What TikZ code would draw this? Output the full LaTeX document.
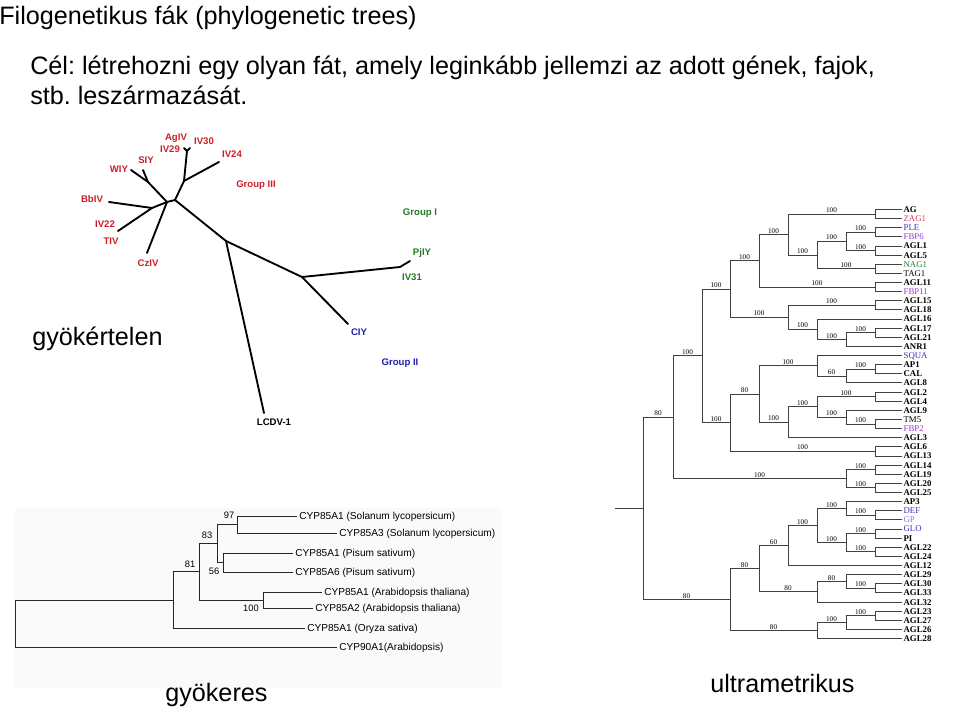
\documentclass[tikz,border=0pt]{standalone}
\usepackage{fontspec}
\setmainfont{Liberation Sans}
\newfontfamily\tms{Liberation Serif}
\frenchspacing
\definecolor{labred}{RGB}{205,30,40}
\definecolor{labgreen}{RGB}{40,120,40}
\definecolor{labblue}{RGB}{30,30,170}
\definecolor{uzag}{RGB}{215,60,90}
\definecolor{ublue}{RGB}{50,50,190}
\definecolor{upurple}{RGB}{150,60,200}
\definecolor{ugreen}{RGB}{30,130,60}
\definecolor{ugp}{RGB}{130,120,220}
\newcommand\uy[1]{209.5+9.13*(#1)}
\newcommand\ubr[3]{\draw[utree] (#1) |- node[ub] (b-#2) {#3} (#2);}
\newcommand\ulk[2]{\draw[utree] (#1) |- (#2);}
\tikzset{
  big/.style={font=\fontsize{18.9}{22}\selectfont, inner sep=0pt, anchor=base west},
  utree/.style={draw=black!75, line width=0.75pt},
  rtree/.style={draw=black!85, line width=0.75pt},
  ntree/.style={draw=black, line width=1.4pt, line cap=round},
  ub/.style={font=\tms\fontsize{5.4}{6}\selectfont, inner sep=0.3pt, above=0.4pt, pos=0.75},
  ulb/.style={font=\tms\bfseries\fontsize{6.6}{7}\selectfont, anchor=west, inner sep=1pt, text height=4.4pt, text depth=0pt},
  ulr/.style={ulb, font=\tms\fontsize{6.6}{7}\selectfont},
  ulred/.style={ulr, text=uzag},
  ulblue/.style={ulr, text=ublue},
  ulpurp/.style={ulr, text=upurple},
  ulgreen/.style={ulr, text=ugreen},
  ulgp/.style={ulr, text=ugp},
  rlf/.style={font=\fontsize{7.6}{9}\selectfont, anchor=west, inner sep=1.5pt, text height=5.4pt, text depth=0pt},
  rbs/.style={font=\fontsize{7}{8}\selectfont, inner sep=0pt},
  nlab/.style={font=\bfseries\fontsize{7.2}{8}\selectfont, inner sep=0pt, text=labred},
}
\begin{document}
\begin{tikzpicture}[x=0.75pt,y=-0.75pt]
\useasboundingbox (0,0) rectangle (960,709);
% faint background of the rooted tree picture
\fill[black!2] (15,508) rectangle (502,688);
% ---------------- texts
\node[big] (title) at (-1,25) {Filogenetikus fák (phylogenetic trees)};
\node[big] (goal1) at (30,75) {Cél: létrehozni egy olyan fát, amely leginkább jellemzi az adott gének, fajok,};
\node[big] (goal2) at (30,105) {stb. leszármazását.};
\node[big] (unr) at (32,345) {gyökértelen};
\node[big] (roo) at (165,701) {gyökeres};
\node[big] (ult) at (710,692) {ultrametrikus};

% ---------------- unrooted tree
\coordinate (p1) at (175,200);
\coordinate (p2) at (167,202);
\coordinate (wn) at (148,182);
\coordinate (bn) at (152,208);
\coordinate (g3) at (184,181);
\coordinate (ag) at (187,151);
\coordinate (q) at (226,241);
\coordinate (r) at (302,277);
\coordinate (pj) at (400,267);
\coordinate (tw) at (131,170);
\coordinate (ts) at (143,170);
\coordinate (tb) at (109,202);
\coordinate (ti) at (118,231);
\coordinate (tc) at (147,253);
\coordinate (ta1) at (184,148);
\coordinate (ta2) at (190,148);
\coordinate (t24) at (219,162);
\coordinate (tl) at (264,413);
\coordinate (tci) at (348,324);
\coordinate (tpj) at (410,261);
\draw[ntree] (tw) -- (wn) -- (p2);
\draw[ntree] (ts) -- (wn);
\draw[ntree] (tb) -- (bn) -- (p2);
\draw[ntree] (ti) -- (bn);
\draw[ntree] (tc) -- (p2) -- (p1);
\draw[ntree] (p1) -- (g3) -- (ag);
\draw[ntree] (ta1) -- (ag) -- (ta2);
\draw[ntree] (g3) -- (t24);
\draw[ntree] (p1) -- (q) -- (tl);
\draw[ntree] (q) -- (r) -- (pj) -- (tpj);
\draw[ntree] (r) -- (tci);

\node[nlab] (lAgIV) at (176,138) {AgIV};
\node[nlab] (lIV30) at (204,141) {IV30};
\node[nlab] (lIV29) at (170,149) {IV29};
\node[nlab] (lIV24) at (232,154) {IV24};
\node[nlab] (lSIY) at (146,160) {SIY};
\node[nlab] (lWIY) at (119,169) {WIY};
\node[nlab] (lG3) at (256,185) {Group III};
\node[nlab] (lBb) at (92,199) {BbIV};
\node[nlab] (lIV22) at (105,224) {IV22};
\node[nlab] (lTIV) at (111,241) {TIV};
\node[nlab] (lCz) at (148,263) {CzIV};
\node[nlab, text=labgreen] (lG1) at (420,213) {Group I};
\node[nlab, text=labgreen] (lPj) at (422,253) {PjIY};
\node[nlab, text=labgreen] (lIV31) at (412,277) {IV31};
\node[nlab, text=labblue] (lCI) at (359,332) {CIY};
\node[nlab, text=labblue] (lG2) at (400,363) {Group II};
\node[nlab, text=black] (lLC) at (274,422) {LCDV-1};

% ---------------- rooted tree
\coordinate (r0) at (15,623.5);
\coordinate (ra) at (173,600);
\coordinate (rb) at (199,571.75);
\coordinate (rc) at (217,543.5);
\coordinate (rd) at (237,524.5);
\coordinate (re) at (223,562.5);
\coordinate (rf) at (263,600);
\node[rlf] (t1) at (297,516) {CYP85A1 (Solanum lycopersicum)};
\node[rlf] (t2) at (337,533) {CYP85A3 (Solanum lycopersicum)};
\node[rlf] (t3) at (293,553) {CYP85A1 (Pisum sativum)};
\node[rlf] (t4) at (293,572) {CYP85A6 (Pisum sativum)};
\node[rlf] (t5) at (322,592) {CYP85A1 (Arabidopsis thaliana)};
\node[rlf] (t6) at (313,608) {CYP85A2 (Arabidopsis thaliana)};
\node[rlf] (t7) at (305,628) {CYP85A1 (Oryza sativa)};
\node[rlf] (t8) at (337,647) {CYP90A1(Arabidopsis)};
\draw[rtree] (r0) |- (ra);
\draw[rtree] (r0) |- (t8);
\draw[rtree] (ra) |- (rb);
\draw[rtree] (ra) |- (t7);
\draw[rtree] (rb) |- (rc);
\draw[rtree] (rb) |- (rf);
\draw[rtree] (rc) |- (rd);
\draw[rtree] (rc) |- (re);
\draw[rtree] (rd) |- (t1);
\draw[rtree] (rd) |- (t2);
\draw[rtree] (re) |- (t3);
\draw[rtree] (re) |- (t4);
\draw[rtree] (rf) |- (t5);
\draw[rtree] (rf) |- (t6);
\node[rbs] (bs97) at (229,515) {97};
\node[rbs] (bs83) at (207,535) {83};
\node[rbs] (bs81) at (190,564) {81};
\node[rbs] (bs56) at (214,571) {56};
\node[rbs] (bs100) at (251,608) {100};

% ---------------- ultrametric tree
\foreach \nm/\i/\st in {AG/0/ulb, ZAG1/1/ulred, PLE/2/ulblue, FBP6/3/ulpurp,
  AGL1/4/ulb, AGL5/5/ulb, NAG1/6/ulgreen, TAG1/7/ulr, AGL11/8/ulb, FBP11/9/ulpurp,
  AGL15/10/ulb, AGL18/11/ulb, AGL16/12/ulb, AGL17/13/ulb, AGL21/14/ulb, ANR1/15/ulb,
  SQUA/16/ulblue, AP1/17/ulb, CAL/18/ulb, AGL8/19/ulb, AGL2/20/ulb, AGL4/21/ulb,
  AGL9/22/ulb, TM5/23/ulr, FBP2/24/ulpurp, AGL3/25/ulb, AGL6/26/ulb, AGL13/27/ulb,
  AGL14/28/ulb, AGL19/29/ulb, AGL20/30/ulb, AGL25/31/ulb, AP3/32/ulb, DEF/33/ulblue,
  GP/34/ulgp, GLO/35/ulblue, PI/36/ulb, AGL22/37/ulb, AGL24/38/ulb, AGL12/39/ulb,
  AGL29/40/ulb, AGL30/41/ulb, AGL33/42/ulb, AGL32/43/ulb, AGL23/44/ulb, AGL27/45/ulb,
  AGL26/46/ulb, AGL28/47/ulb}
  \node[\st] (\nm) at (902,{\uy{\i}}) {\nm};

\coordinate (c1) at (875,{\uy{0.5}});
\coordinate (c2) at (875,{\uy{2.5}});
\coordinate (c3) at (875,{\uy{4.5}});
\coordinate (n2) at (846,{\uy{3.5}});
\coordinate (c4) at (875,{\uy{6.5}});
\coordinate (n3) at (817,{\uy{5}});
\coordinate (n4) at (788,{\uy{2.75}});
\coordinate (c5) at (875,{\uy{8.5}});
\coordinate (n5) at (759,{\uy{5.625}});
\coordinate (c6) at (875,{\uy{10.5}});
\coordinate (c7) at (875,{\uy{13.5}});
\coordinate (n7) at (846,{\uy{14.25}});
\coordinate (n8) at (817,{\uy{13.125}});
\coordinate (n9) at (788,{\uy{11.8125}});
\coordinate (n6) at (730,{\uy{8.71875}});
\coordinate (c8) at (875,{\uy{17.5}});
\coordinate (n10) at (846,{\uy{18.25}});
\coordinate (n11) at (817,{\uy{17.125}});
\coordinate (c9) at (875,{\uy{20.5}});
\coordinate (c10) at (875,{\uy{23.5}});
\coordinate (n14) at (846,{\uy{22.75}});
\coordinate (n15) at (817,{\uy{21.625}});
\coordinate (n16) at (788,{\uy{23.3125}});
\coordinate (n17) at (759,{\uy{20.21875}});
\coordinate (c11) at (875,{\uy{26.5}});
\coordinate (n18) at (730,{\uy{23.359375}});
\coordinate (n19) at (702,{\uy{16.0390625}});
\coordinate (c12) at (875,{\uy{28.5}});
\coordinate (c13) at (875,{\uy{30.5}});
\coordinate (n20) at (846,{\uy{29.5}});
\coordinate (n21) at (673,{\uy{22.76953}});
\coordinate (c14) at (875,{\uy{33.5}});
\coordinate (n22) at (846,{\uy{32.75}});
\coordinate (c15) at (875,{\uy{35.5}});
\coordinate (c16) at (875,{\uy{37.5}});
\coordinate (n23) at (846,{\uy{36.5}});
\coordinate (n24) at (817,{\uy{34.625}});
\coordinate (n25) at (788,{\uy{36.8125}});
\coordinate (c17) at (875,{\uy{41.5}});
\coordinate (n26) at (846,{\uy{40.75}});
\coordinate (n27) at (817,{\uy{41.875}});
\coordinate (n28) at (759,{\uy{39.34375}});
\coordinate (c18) at (875,{\uy{44.5}});
\coordinate (n29) at (846,{\uy{45.25}});
\coordinate (n30) at (817,{\uy{46.125}});
\coordinate (n31) at (730,{\uy{42.734375}});
\coordinate (n32) at (643,{\uy{32.75195}});
\coordinate (uroot) at (615,{\uy{32.75195}});

\ulk{c1}{AG} \ulk{c1}{ZAG1}
\ulk{c2}{PLE} \ulk{c2}{FBP6}
\ulk{c3}{AGL1} \ulk{c3}{AGL5}
\ulk{c4}{NAG1} \ulk{c4}{TAG1}
\ulk{c5}{AGL11} \ulk{c5}{FBP11}
\ulk{c6}{AGL15} \ulk{c6}{AGL18}
\ulk{c7}{AGL17} \ulk{c7}{AGL21}
\ulk{n7}{ANR1}
\ulk{n8}{AGL16}
\ulk{c8}{AP1} \ulk{c8}{CAL}
\ulk{n10}{AGL8}
\ulk{n11}{SQUA}
\ulk{c9}{AGL2} \ulk{c9}{AGL4}
\ulk{c10}{TM5} \ulk{c10}{FBP2}
\ulk{n14}{AGL9}
\ulk{n16}{AGL3}
\ulk{c11}{AGL6} \ulk{c11}{AGL13}
\ulk{c12}{AGL14} \ulk{c12}{AGL19}
\ulk{c13}{AGL20} \ulk{c13}{AGL25}
\ulk{c14}{DEF} \ulk{c14}{GP}
\ulk{n22}{AP3}
\ulk{c15}{GLO} \ulk{c15}{PI}
\ulk{c16}{AGL22} \ulk{c16}{AGL24}
\ulk{n25}{AGL12}
\ulk{c17}{AGL30} \ulk{c17}{AGL33}
\ulk{n26}{AGL29}
\ulk{n27}{AGL32}
\ulk{c18}{AGL23} \ulk{c18}{AGL27}
\ulk{n29}{AGL26}
\ulk{n30}{AGL28}

\ubr{n4}{c1}{100}
\ubr{n4}{n3}{100}
\ubr{n3}{n2}{100}
\ubr{n2}{c2}{100}
\ubr{n2}{c3}{100}
\ubr{n3}{c4}{100}
\ubr{n5}{n4}{100}
\ubr{n5}{c5}{100}
\ubr{n6}{n5}{100}
\ubr{n6}{n9}{100}
\ubr{n9}{c6}{100}
\ubr{n9}{n8}{100}
\ubr{n8}{n7}{100}
\ubr{n7}{c7}{100}
\ubr{n19}{n6}{100}
\ubr{n19}{n18}{100}
\ubr{n18}{n17}{80}
\ubr{n18}{c11}{100}
\ubr{n17}{n11}{100}
\ubr{n17}{n16}{100}
\ubr{n11}{n10}{60}
\ubr{n10}{c8}{100}
\ubr{n16}{n15}{100}
\ubr{n15}{c9}{100}
\ubr{n15}{n14}{100}
\ubr{n14}{c10}{100}
\ubr{n21}{n19}{100}
\ubr{n21}{n20}{100}
\ubr{n20}{c12}{100}
\ubr{n20}{c13}{100}
\ubr{n32}{n21}{80}
\ubr{n32}{n31}{80}
\ubr{n31}{n28}{80}
\ubr{n31}{n30}{80}
\ubr{n28}{n25}{60}
\ubr{n28}{n27}{80}
\ubr{n25}{n24}{100}
\ubr{n24}{n22}{100}
\ubr{n24}{n23}{100}
\ubr{n22}{c14}{100}
\ubr{n23}{c15}{100}
\ubr{n23}{c16}{100}
\ubr{n27}{n26}{80}
\ubr{n26}{c17}{100}
\ubr{n30}{n29}{100}
\ubr{n29}{c18}{100}
\draw[utree] (uroot) -- (n32);
\end{tikzpicture}
\end{document}
